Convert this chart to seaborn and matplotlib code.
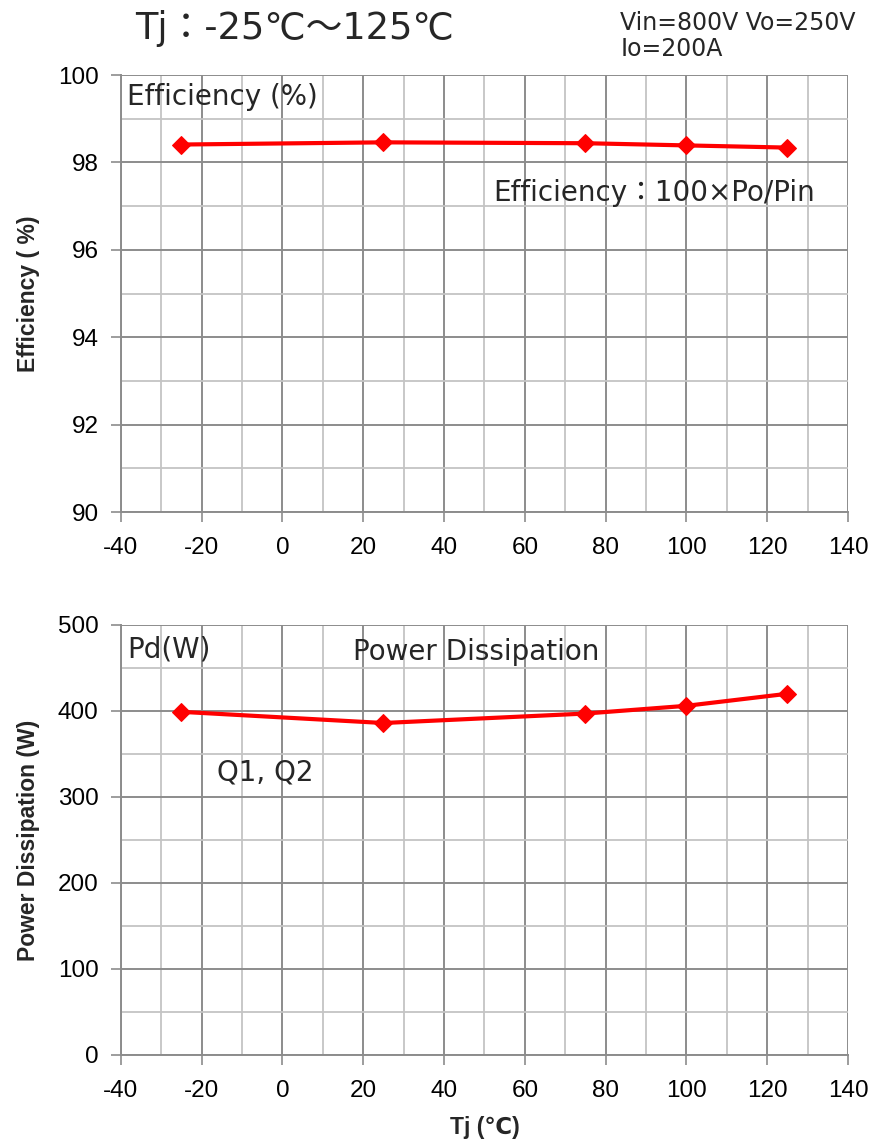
import numpy as np
import matplotlib
matplotlib.use("Agg")
import matplotlib.pyplot as plt
import pandas as pd
import seaborn as sns
from matplotlib.ticker import MultipleLocator

tj = [-25, 25, 75, 100, 125]
efficiency = [98.41, 98.46, 98.44, 98.39, 98.34]
power_diss = [399, 386, 397, 406, 420]

df = pd.DataFrame({'Tj': tj, 'Eff': efficiency, 'Pd': power_diss})

sns.set_theme(style="white")
plt.rcParams['font.family'] = ['Liberation Sans', 'DejaVu Sans']
plt.rcParams['axes.unicode_minus'] = False
txt = ['DejaVu Sans', 'Noto Sans CJK JP']

fig = plt.figure(figsize=(8.76, 11.44), dpi=100)
ax1 = fig.add_axes([0.138, 0.5524, 0.830, 0.382])
ax2 = fig.add_axes([0.138, 0.0778, 0.830, 0.3759])

major_c = '#8c8c8c'
minor_c = '#c4c4c4'

def style_axes(ax, ymin, ymax, ymaj, ymin_step):
    ax.set_xlim(-40, 140)
    ax.set_ylim(ymin, ymax)
    ax.xaxis.set_major_locator(MultipleLocator(20))
    ax.xaxis.set_minor_locator(MultipleLocator(10))
    ax.yaxis.set_major_locator(MultipleLocator(ymaj))
    ax.yaxis.set_minor_locator(MultipleLocator(ymin_step))
    ax.grid(which='minor', color=minor_c, linewidth=1.3)
    ax.grid(which='major', color=major_c, linewidth=1.4)
    ax.set_axisbelow(True)
    for s in ['top', 'right']:
        ax.spines[s].set_visible(False)
    for s in ['left', 'bottom']:
        ax.spines[s].set_color(major_c)
        ax.spines[s].set_linewidth(1.4)
    ax.tick_params(axis='x', which='major', direction='out', length=7, width=1.2,
                   color=major_c, labelsize=17.5, labelcolor='black', pad=11, bottom=True)
    ax.tick_params(axis='y', which='major', direction='out', length=7, width=1.2,
                   color=major_c, labelsize=17.5, labelcolor='black', pad=9, left=True)
    ax.tick_params(which='minor', length=0)

sns.lineplot(data=df, x='Tj', y='Eff', ax=ax1, color='#ff0000', linewidth=3,
             marker='D', markersize=9, markeredgecolor='#ff0000')
style_axes(ax1, 90, 100, 2, 1)
ax1.set_xlabel('')
ax1.set_ylabel('Efficiency ( %)', fontsize=16.5, fontweight='bold', labelpad=13)

sns.lineplot(data=df, x='Tj', y='Pd', ax=ax2, color='#ff0000', linewidth=3,
             marker='D', markersize=9, markeredgecolor='#ff0000')
style_axes(ax2, 0, 500, 100, 50)
ax2.set_xlabel('Tj (℃)', fontsize=16.5, fontweight='bold', labelpad=10)
ax2.set_ylabel('Power Dissipation (W)', fontsize=16.5, fontweight='bold', labelpad=13)

ax1.text(-38.5, 99.5, 'Efficiency (%)', fontsize=20, family=txt, va='center')
ax1.text(92, 97.3, 'Efficiency：100×Po/Pin', fontsize=20, family=txt, va='center', ha='center')
ax2.text(-38.5, 472, 'Pd(W)', fontsize=20, family=txt, va='center')
ax2.text(48, 468, 'Power Dissipation', fontsize=20, family=txt, va='center', ha='center')
ax2.text(-4.3, 328, 'Q1, Q2', fontsize=20, family=txt, va='center', ha='center')

fig.text(0.336, 0.975, 'Tj：-25℃～125℃', fontsize=26.5, family=txt, va='center', ha='center')
fig.text(0.708, 0.980, 'Vin=800V Vo=250V', fontsize=17, family=txt, va='center', ha='left')
fig.text(0.708, 0.957, 'Io=200A', fontsize=17, family=txt, va='center', ha='left')

fig.savefig('out.png', dpi=100)
